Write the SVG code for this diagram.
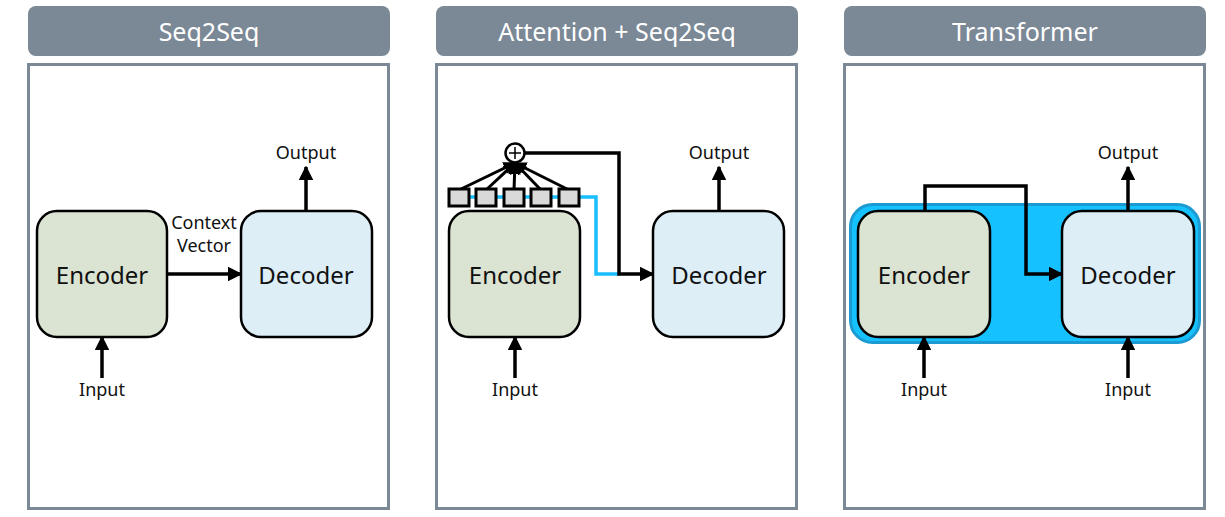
<svg xmlns="http://www.w3.org/2000/svg" width="1225" height="517" viewBox="0 0 1225 517">
<defs>
<style>
.hdr{fill:#7b8896}
.frame{fill:#fff;stroke:#7b8896;stroke-width:3}
.ht{fill:#fff;font-family:"Noto Sans","Open Sans",sans-serif;font-size:25px;text-anchor:middle}
.enc{fill:#dbe4d2;stroke:#000;stroke-width:2.5}
.dec{fill:#ddeef7;stroke:#000;stroke-width:2.5}
.bt{fill:#111;font-family:"Noto Sans","Open Sans",sans-serif;font-size:24px;text-anchor:middle}
.lt{fill:#111;font-family:"Noto Sans","Open Sans",sans-serif;font-size:18px;text-anchor:middle}
.ln{fill:none;stroke:#000;stroke-width:3.5}
.thin{fill:none;stroke:#000;stroke-width:3}
.blue{fill:none;stroke:#19bfff;stroke-width:3.5}
.sq{fill:#d9d9d9;stroke:#000;stroke-width:3}
</style>
<marker id="ah" viewBox="0 0 10 10" refX="9" refY="5" markerWidth="4.2" markerHeight="4.2" markerUnits="strokeWidth" orient="auto">
<path d="M0,0 L10,5 L0,10 z" fill="#000"/>
</marker>
</defs>
<rect width="1225" height="517" fill="#fff"/>

<g id="panel1">
<rect class="hdr" x="28" y="6" width="362" height="50" rx="8"/>
<text class="ht" x="209" y="41">Seq2Seq</text>
<rect class="frame" x="28.5" y="64.5" width="360" height="444"/>
</g>
<g id="panel2">
<rect class="hdr" x="436" y="6" width="362" height="50" rx="8"/>
<text class="ht" x="617" y="41">Attention + Seq2Seq</text>
<rect class="frame" x="436.5" y="64.5" width="360" height="444"/>
</g>
<g id="panel3">
<rect class="hdr" x="844" y="6" width="362" height="50" rx="8"/>
<text class="ht" x="1025" y="41">Transformer</text>
<rect class="frame" x="844.5" y="64.5" width="360" height="444"/>
</g>

<g id="transformer-bg">
<rect x="850.5" y="204.5" width="349" height="138" rx="22" fill="#16c1ff" stroke="#1b9bd1" stroke-width="3"/>
</g>

<g id="enc1"><rect class="enc" x="37" y="211" width="130" height="126" rx="20"/><text class="bt" x="102" y="284">Encoder</text></g>
<g id="dec1"><rect class="dec" x="241" y="211" width="131" height="126" rx="20"/><text class="bt" x="306" y="284">Decoder</text></g>
<g id="enc2"><rect class="enc" x="449" y="211" width="131" height="126" rx="20"/><text class="bt" x="515" y="284">Encoder</text></g>
<g id="dec2"><rect class="dec" x="653" y="211" width="131" height="126" rx="20"/><text class="bt" x="719" y="284">Decoder</text></g>
<g id="enc3"><rect class="enc" x="858" y="211" width="132" height="126" rx="20"/><text class="bt" x="924" y="284">Encoder</text></g>
<g id="dec3"><rect class="dec" x="1062" y="211" width="132" height="126" rx="20"/><text class="bt" x="1128" y="284">Decoder</text></g>

<g id="labels">
<text class="lt" x="306" y="159">Output</text>
<text class="lt" x="102" y="396">Input</text>
<text class="lt" x="204" y="229">Context</text>
<text class="lt" x="204" y="252">Vector</text>
<text class="lt" x="719" y="159">Output</text>
<text class="lt" x="515" y="396">Input</text>
<text class="lt" x="1128" y="159">Output</text>
<text class="lt" x="924" y="396">Input</text>
<text class="lt" x="1128" y="396">Input</text>
</g>

<g id="connectors">
<line class="ln" x1="102" y1="378" x2="102" y2="337" marker-end="url(#ah)"/>
<line class="ln" x1="306" y1="211" x2="306" y2="167" marker-end="url(#ah)"/>
<line class="ln" x1="167" y1="274" x2="241" y2="274" marker-end="url(#ah)"/>

<line class="ln" x1="515" y1="378" x2="515" y2="337" marker-end="url(#ah)"/>
<line class="ln" x1="719" y1="211" x2="719" y2="167" marker-end="url(#ah)"/>
<polyline class="blue" points="459,197 596,197 596,274 620,274"/>
<polyline class="ln" points="525,153 619,153 619,274 653,274" marker-end="url(#ah)"/>
<line class="thin" x1="459" y1="190" x2="515" y2="163" marker-end="url(#ah)"/>
<line class="thin" x1="486" y1="190" x2="515" y2="163" marker-end="url(#ah)"/>
<line class="thin" x1="514" y1="190" x2="515" y2="163" marker-end="url(#ah)"/>
<line class="thin" x1="541" y1="190" x2="515" y2="163" marker-end="url(#ah)"/>
<line class="thin" x1="569" y1="190" x2="515" y2="163" marker-end="url(#ah)"/>

<line class="ln" x1="924" y1="378" x2="924" y2="337" marker-end="url(#ah)"/>
<line class="ln" x1="1128" y1="378" x2="1128" y2="337" marker-end="url(#ah)"/>
<line class="ln" x1="1128" y1="211" x2="1128" y2="167" marker-end="url(#ah)"/>
<polyline class="ln" points="925,211 925,186 1026,186 1026,274 1062,274" marker-end="url(#ah)"/>
</g>

<g id="attention">
<rect class="sq" x="449" y="189" width="20" height="17"/>
<rect class="sq" x="476" y="189" width="20" height="17"/>
<rect class="sq" x="504" y="189" width="20" height="17"/>
<rect class="sq" x="531" y="189" width="20" height="17"/>
<rect class="sq" x="559" y="189" width="20" height="17"/>
<circle cx="515" cy="153" r="9.5" fill="#fff" stroke="#000" stroke-width="2.5"/>
<path d="M509,153 H521 M515,147 V159" stroke="#000" stroke-width="1.5"/>
</g>
</svg>
